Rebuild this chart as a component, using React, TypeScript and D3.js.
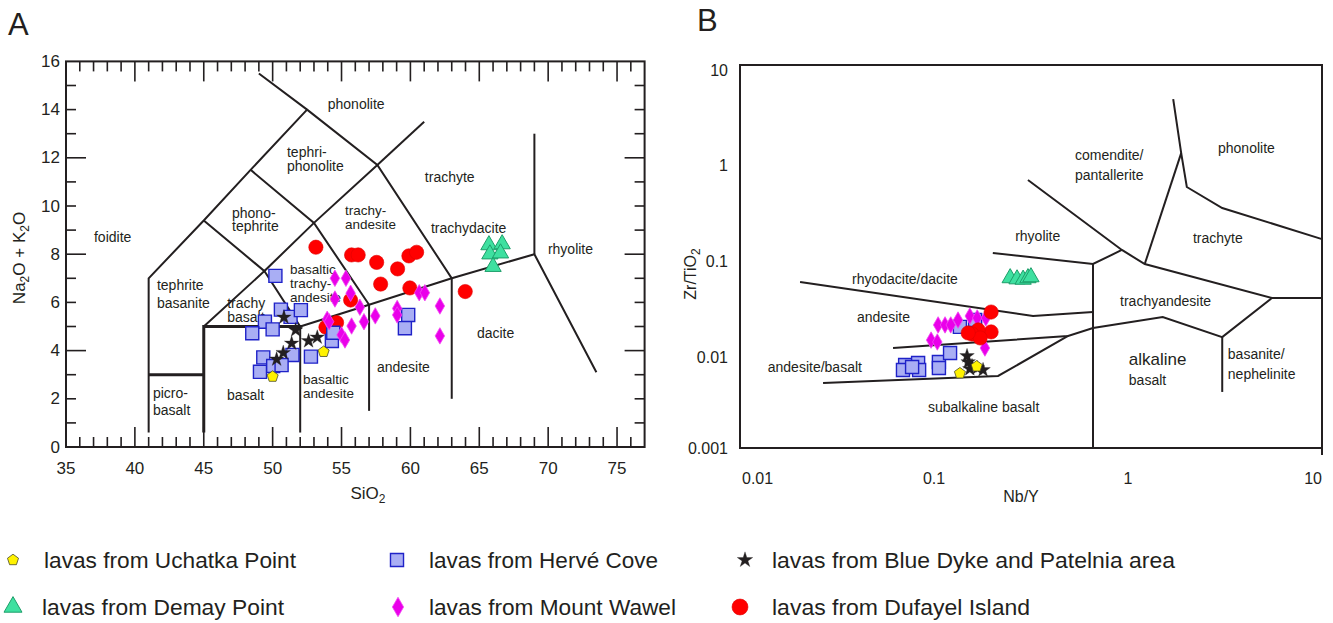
import React from 'react';
import * as d3 from 'd3';

type P = [number, number];

// ---------- panel A: TAS diagram (SiO2 vs Na2O + K2O) ----------
const uchatkaA: P[] = [[53.7, 3.95], [50.0, 2.92]];
const demayA: P[] = [[65.7, 8.38], [66.66, 8.42], [65.77, 8.0], [66.54, 8.04], [66.0, 7.48]];
const herveA: P[] = [
  [50.2, 7.1], [50.6, 5.7], [51.3, 5.4], [52.05, 5.68], [49.44, 5.2], [50.0, 4.88], [48.52, 4.72],
  [49.32, 3.72], [51.44, 3.82], [52.78, 3.75], [49.08, 3.12], [50.04, 3.36], [50.65, 3.4],
  [54.3, 4.4], [54.4, 4.74], [59.84, 5.48], [59.6, 4.93],
];
const wawelA: P[] = [
  [54.52, 7.0], [55.32, 7.0], [55.66, 6.38], [54.52, 6.14], [56.33, 5.8], [53.96, 5.3], [54.1, 5.2],
  [55.73, 5.02], [56.63, 5.2], [57.45, 5.44], [59.04, 5.75], [59.04, 5.48], [60.64, 6.4], [61.05, 6.4],
  [62.14, 5.85], [62.14, 4.61], [55.0, 4.65], [55.25, 4.44],
];
const blueDykeA: P[] = [
  [50.82, 5.38], [51.67, 4.85], [51.38, 4.3], [50.77, 3.91], [52.61, 4.4], [53.24, 4.55], [50.29, 3.64],
];
const dufayelA: P[] = [
  [53.14, 8.29], [55.73, 7.97], [56.21, 7.97], [57.55, 7.66], [59.07, 7.39], [59.89, 7.93], [60.45, 8.08],
  [57.84, 6.76], [59.96, 6.6], [63.98, 6.45], [55.66, 6.1], [54.64, 5.16], [53.87, 4.97],
];

// field boundaries (Le Bas et al. 1986)
const tasLines: P[][] = [
  [[41, 0.6], [41, 7], [45, 9.4], [48.4, 11.5], [52.5, 14]],
  [[49, 15.5], [52.5, 14], [57.6, 11.7], [63, 7], [69, 8], [73.5, 3.1]],
  [[45, 9.4], [49.4, 7.3], [53, 9.3], [57.6, 11.7]],
  [[48.4, 11.5], [53, 9.3], [57, 5.9]],
  [[45, 5], [49.4, 7.3], [52, 5], [57, 5.9], [63, 7]],
  [[52, 0.6], [52, 5]],
  [[57, 1.5], [57, 5.9]],
  [[63, 2], [63, 7]],
  [[69, 8], [69, 13]],
  [[57.6, 11.7], [61, 13.5]],
];
const tasThick: P[][] = [
  [[41, 3], [45, 3]],
  [[45, 0.6], [45, 5], [52, 5], [52, 4.9]],
];

// [lines, x, y, line gap in px]
const tasLabels: [string[], number, number, number][] = [
  [['phonolite'], 54.0, 14.23, 0],
  [['tephri-', 'phonolite'], 51.04, 12.24, 13.5],
  [['phono-', 'tephrite'], 47.05, 9.71, 13.5],
  [['foidite'], 37.03, 8.71, 0],
  [['tephrite', 'basanite'], 41.6, 6.72, 18],
  [['trachy', 'basalt'], 46.7, 5.98, 14],
  [['basaltic', 'trachy-', 'andesite'], 51.26, 7.35, 14],
  [['picro-', 'basalt'], 41.31, 2.24, 17],
  [['basalt'], 46.68, 2.16, 0],
  [['basaltic', 'andesite'], 52.2, 2.8, 14],
  [['andesite'], 57.57, 3.32, 0],
  [['trachy-', 'andesite'], 55.25, 9.8, 14],
  [['trachyte'], 61.05, 11.2, 0],
  [['trachydacite'], 61.49, 9.09, 0],
  [['rhyolite'], 69.98, 8.22, 0],
  [['dacite'], 64.83, 4.73, 0],
];
const tasXTicks = [35, 40, 45, 50, 55, 60, 65, 70, 75];
const tasYTicks = [0, 2, 4, 6, 8, 10, 12, 14, 16];

// ---------- panel B: Zr/TiO2 vs Nb/Y ----------
const uchatkaB: P[] = [[0.136, 0.00603], [0.166, 0.00712]];
const demayB: P[] = [[0.247, 0.0596], [0.268, 0.058], [0.288, 0.0575], [0.305, 0.0596], [0.316, 0.061]];
const herveB: P[] = [
  [0.136, 0.0184], [0.163, 0.0217], [0.071, 0.00736], [0.0828, 0.00773], [0.0692, 0.00653],
  [0.0838, 0.00653], [0.106, 0.00791], [0.121, 0.00982], [0.106, 0.00685], [0.0771, 0.00702],
];
const wawelB: P[] = [
  [0.105, 0.0193], [0.114, 0.0193], [0.122, 0.0193], [0.0966, 0.0134], [0.104, 0.0128],
  [0.133, 0.0217], [0.153, 0.0239], [0.167, 0.0228], [0.185, 0.0228], [0.183, 0.01107],
];
const blueDykeB: P[] = [
  [0.148, 0.00914], [0.15, 0.00791], [0.157, 0.00718], [0.167, 0.00685], [0.179, 0.00653], [0.153, 0.00669],
];
const dufayelB: P[] = [
  [0.197, 0.0263], [0.197, 0.0163], [0.169, 0.0171], [0.157, 0.0155], [0.173, 0.0141], [0.15, 0.0159],
];

const wfLines: P[][] = [
  [[1.71, 4.41], [1.88, 1.2], [2.01, 0.532], [3.06, 0.321], [10, 0.152]],
  [[1.88, 1.2], [1.22, 0.0835]],
  [[0.305, 0.63], [0.93, 0.117], [1.22, 0.0835], [5.52, 0.0369], [10, 0.0369]],
  [[0.201, 0.109], [0.66, 0.0835], [0.93, 0.117]],
  [[0.66, 0.0835], [0.66, 0.001]],
  [[0.0204, 0.0542], [0.324, 0.0239], [0.66, 0.0263]],
  [[0.0615, 0.01107], [0.491, 0.0148], [0.66, 0.0179], [1.51, 0.0233], [3.06, 0.0144], [5.52, 0.0369]],
  [[3.06, 0.0144], [3.06, 0.00385]],
  [[0.0268, 0.00478], [0.214, 0.00565], [0.491, 0.0148]],
];
const wfLabels: [string[], number, number][] = [
  [['phonolite'], 2.91, 1.36],
  [['comendite/', 'pantallerite'], 0.533, 1.15],
  [['trachyte'], 2.16, 0.156],
  [['rhyolite'], 0.262, 0.164],
  [['trachyandesite'], 0.91, 0.0343],
  [['basanite/', 'nephelinite'], 3.27, 0.0096],
  [['rhyodacite/dacite'], 0.0378, 0.0582],
  [['andesite'], 0.0401, 0.0233],
  [['andesite/basalt'], 0.0139, 0.00702],
  [['subalkaline basalt'], 0.0931, 0.00268],
];
const wfXTicks = [0.01, 0.1, 1, 10];
const wfYTicks = [10, 1, 0.1, 0.01, 0.001];

const INK = '#231f20';
const FONT = '"Liberation Sans", Arial, sans-serif';

const pentagon: d3.SymbolType = {
  draw(ctx, size) {
    const r = Math.sqrt(size / 2.378);
    for (let i = 0; i < 5; i++) {
      const a = -Math.PI / 2 + (i * 2 * Math.PI) / 5;
      if (i === 0) ctx.moveTo(r * Math.cos(a), r * Math.sin(a));
      else ctx.lineTo(r * Math.cos(a), r * Math.sin(a));
    }
    ctx.closePath();
  },
};

const styles = {
  uchatka: { type: pentagon, size: 80, fill: '#fff200', stroke: '#4a4a2a', sw: 0.8 },
  demay: { type: d3.symbolTriangle, size: 115, fill: '#3ee0a0', stroke: '#1e9e6a', sw: 1 },
  herve: { type: d3.symbolSquare, size: 170, fill: '#a9aef4', stroke: '#1f22c8', sw: 1.4 },
  wawel: { type: d3.symbolDiamond, size: 78, fill: '#ea00ea', stroke: '#f24af2', sw: 0.8 },
  blueDyke: { type: d3.symbolStar, size: 66, fill: INK, stroke: INK, sw: 0.3 },
  dufayel: { type: d3.symbolCircle, size: 160, fill: '#ff0000', stroke: '#e00000', sw: 0.6 },
};
type Key = keyof typeof styles;

const Marks = ({ pts, k, x, y }: { pts: P[]; k: Key; x: any; y: any }) => {
  const s = styles[k];
  const path = d3.symbol().type(s.type).size(s.size)() as string;
  return (
    <g>
      {pts.map((p, i) => (
        <path key={i} d={path} transform={`translate(${x(p[0])},${y(p[1])})`}
          fill={s.fill} stroke={s.stroke} strokeWidth={s.sw} />
      ))}
    </g>
  );
};

const Label = ({ lines, x, y, gap, size }: { lines: string[]; x: number; y: number; gap: number; size: number }) => (
  <text x={x} y={y} fontSize={size} fill={INK} fontFamily={FONT}>
    {lines.map((t, i) => (
      <tspan key={i} x={x} y={y + i * gap} dominantBaseline="central">{t}</tspan>
    ))}
  </text>
);

export default function App() {
  const xA = d3.scaleLinear().domain([35, 77]).range([66, 644.6]);
  const yA = d3.scaleLinear().domain([0, 16]).range([447, 61.4]);
  const xB = d3.scaleLog().domain([0.01, 10]).range([740, 1322]);
  const yB = d3.scaleLog().domain([0.001, 10]).range([448, 65]);

  const lineA = d3.line<P>().x(d => xA(d[0])).y(d => yA(d[1]));
  const lineB = d3.line<P>().x(d => xB(d[0])).y(d => yB(d[1]));

  const [ax0, ax1] = xA.range();
  const [ay0, ay1] = yA.range();
  const xMinor = d3.range(36, 77);
  const yMinor = d3.range(1, 16);

  const legend: { k: Key; label: string; mx: number; tx: number; y: number; w: number }[] = [
    { k: 'uchatka', label: 'lavas from Uchatka Point', mx: 13, tx: 44, y: 560, w: 252 },
    { k: 'herve', label: 'lavas from Hervé Cove', mx: 397, tx: 429, y: 560, w: 229 },
    { k: 'blueDyke', label: 'lavas from Blue Dyke and Patelnia area', mx: 745, tx: 772, y: 560, w: 403 },
    { k: 'demay', label: 'lavas from Demay Point', mx: 13, tx: 42, y: 607, w: 242 },
    { k: 'wawel', label: 'lavas from Mount Wawel', mx: 398, tx: 429, y: 607, w: 247 },
    { k: 'dufayel', label: 'lavas from Dufayel Island', mx: 740, tx: 772, y: 607, w: 258 },
  ];
  const legendSize: Record<Key, number> = { uchatka: 80, herve: 170, blueDyke: 75, demay: 140, wawel: 110, dufayel: 200 };

  return (
    <svg width={1333} height={623} style={{ position: 'absolute', left: 0, top: 0, background: '#fff' }}>
      {/* ---------- panel A ---------- */}
      <text x={8} y={35} fontSize={31} fill={INK} fontFamily={FONT}>A</text>
      <g stroke={INK} strokeWidth={2} fill="none">
        {tasLines.map((l, i) => <path key={i} d={lineA(l) as string} />)}
        {tasThick.map((l, i) => <path key={'t' + i} d={lineA(l) as string} strokeWidth={3} />)}
        <rect x={ax0} y={ay1} width={ax1 - ax0} height={ay0 - ay1} />
        {xMinor.map(v => {
          const len = v % 5 === 0 ? 20 : 10;
          return (
            <g key={'x' + v}>
              <line x1={xA(v)} x2={xA(v)} y1={ay0} y2={ay0 - len} strokeWidth={1.6} />
              <line x1={xA(v)} x2={xA(v)} y1={ay1} y2={ay1 + len} strokeWidth={1.6} />
            </g>
          );
        })}
        {yMinor.map(v => {
          const len = v % 4 === 0 ? 20 : 10;
          return (
            <g key={'y' + v}>
              <line x1={ax0} x2={ax0 + len} y1={yA(v)} y2={yA(v)} strokeWidth={1.6} />
              <line x1={ax1} x2={ax1 - len} y1={yA(v)} y2={yA(v)} strokeWidth={1.6} />
            </g>
          );
        })}
      </g>
      <g fontFamily={FONT} fontSize={17} fill={INK}>
        {tasXTicks.map(v => (
          <text key={v} x={xA(v)} y={468} textAnchor="middle" dominantBaseline="central">{v}</text>
        ))}
        {tasYTicks.map(v => (
          <text key={v} x={60} y={yA(v)} textAnchor="end" dominantBaseline="central">{v}</text>
        ))}
        <text x={368} y={499} textAnchor="middle">SiO<tspan dy={4} fontSize={12}>2</tspan></text>
        <text transform="translate(25,258) rotate(-90)" textAnchor="middle">
          Na<tspan dy={4} fontSize={12}>2</tspan><tspan dy={-4}>O + K</tspan><tspan dy={4} fontSize={12}>2</tspan><tspan dy={-4}>O</tspan>
        </text>
      </g>
      {tasLabels.map(([lines, x, y, gap], i) => (
        <Label key={i} lines={lines} x={xA(x)} y={yA(y)} gap={gap} size={lines.length === 3 || lines[0] === 'basaltic' || lines[1] === 'andesite' ? 13.5 : 14} />
      ))}
      <Marks pts={dufayelA} k="dufayel" x={xA} y={yA} />
      <Marks pts={herveA} k="herve" x={xA} y={yA} />
      <Marks pts={wawelA} k="wawel" x={xA} y={yA} />
      <Marks pts={blueDykeA} k="blueDyke" x={xA} y={yA} />
      <Marks pts={uchatkaA} k="uchatka" x={xA} y={yA} />
      <Marks pts={demayA} k="demay" x={xA} y={yA} />

      {/* ---------- panel B ---------- */}
      <text x={697} y={31} fontSize={31} fill={INK} fontFamily={FONT}>B</text>
      <g stroke={INK} strokeWidth={2} fill="none">
        {wfLines.map((l, i) => <path key={i} d={lineB(l) as string} />)}
        <rect x={740} y={65} width={1322 - 740} height={448 - 65} />
        <line x1={1322} x2={1322} y1={448} y2={455} />
      </g>
      <g fontFamily={FONT} fontSize={16} fill={INK}>
        {wfXTicks.map((v, i) => (
          <text key={v} x={i === 0 ? xB(v) + 2 : xB(v)} y={478}
            textAnchor={i === 0 ? 'start' : i === wfXTicks.length - 1 ? 'end' : 'middle'} dominantBaseline="central">{v}</text>
        ))}
        {wfYTicks.map(v => (
          <text key={v} x={728} y={yB(v) + (v === 0.001 ? 0 : 5)} textAnchor="end" dominantBaseline="central">{v}</text>
        ))}
        <text x={1021} y={502} textAnchor="middle">Nb/Y</text>
        <text transform="translate(696,274) rotate(-90)" textAnchor="middle">
          Zr/TiO<tspan dy={4} fontSize={12}>2</tspan>
        </text>
      </g>
      {wfLabels.map(([lines, x, y], i) => (
        <Label key={i} lines={lines} x={xB(x)} y={yB(y)} gap={20} size={14} />
      ))}
      <text x={xB(1.01)} y={yB(0.0083)} fontSize={17} fill={INK} fontFamily={FONT} dominantBaseline="central">alkaline</text>
      <text x={xB(1.01)} y={yB(0.00513)} fontSize={14} fill={INK} fontFamily={FONT} dominantBaseline="central">basalt</text>
      <Marks pts={herveB} k="herve" x={xB} y={yB} />
      <Marks pts={wawelB} k="wawel" x={xB} y={yB} />
      <Marks pts={dufayelB} k="dufayel" x={xB} y={yB} />
      <Marks pts={blueDykeB} k="blueDyke" x={xB} y={yB} />
      <Marks pts={uchatkaB} k="uchatka" x={xB} y={yB} />
      <Marks pts={demayB} k="demay" x={xB} y={yB} />

      {/* ---------- legend ---------- */}
      {legend.map(d => {
        const s = styles[d.k];
        const path = d3.symbol().type(s.type).size(legendSize[d.k])() as string;
        return (
          <g key={d.k}>
            <path d={path} transform={`translate(${d.mx},${d.y})`} fill={s.fill} stroke={s.stroke} strokeWidth={s.sw} />
            <text x={d.tx} y={d.y} fontSize={22} fill={INK} fontFamily={FONT} dominantBaseline="central"
              textLength={d.w} lengthAdjust="spacingAndGlyphs">{d.label}</text>
          </g>
        );
      })}
    </svg>
  );
}
